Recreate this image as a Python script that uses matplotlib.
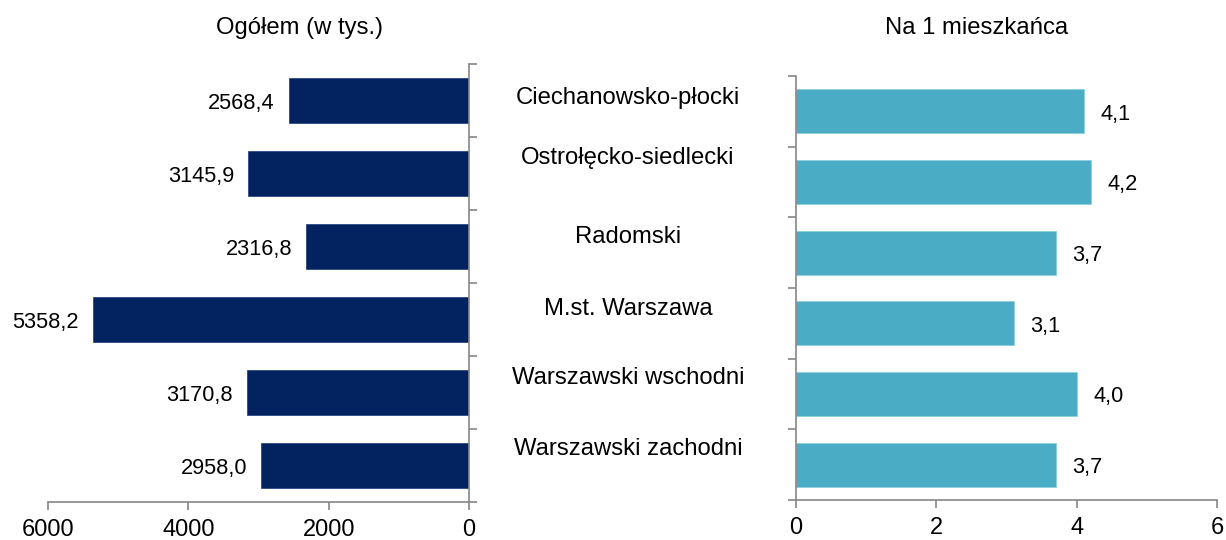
import matplotlib
matplotlib.use("Agg")
import matplotlib.pyplot as plt
import numpy as np

categories = ["Ciechanowsko-płocki", "Ostrołęcko-siedlecki", "Radomski",
              "M.st. Warszawa", "Warszawski wschodni", "Warszawski zachodni"]
total_k = [2568.4, 3145.9, 2316.8, 5358.2, 3170.8, 2958.0]
per_capita = [4.1, 4.2, 3.7, 3.1, 4.0, 3.7]
left_ticks = [6000, 4000, 2000, 0]
right_ticks = [0, 2, 4, 6]
title_left = "Ogółem (w tys.)"
title_right = "Na 1 mieszkańca"

plt.rcParams['font.family'] = ['Liberation Sans', 'DejaVu Sans']
FS_VAL = 15.7
FS_TXT = 17.2
FS_TICK = 17
DARK = "#022260"
LIGHT = "#4BACC6"
SPINE = "#868686"

fig = plt.figure(figsize=(12.26, 5.4), dpi=100)
axL = fig.add_axes([48/1226, 1-502/540, (469-48)/1226, (502-64)/540])
axR = fig.add_axes([796/1226, 1-500/540, (1217-796)/1226, (500-76)/540])

y = np.arange(len(categories))
fmt = lambda v, d: f"{v:.{d}f}".replace(".", ",")

axL.barh(y, total_k, height=0.62, color=DARK, edgecolor="#2a4a85", linewidth=0.6)
axL.set_xlim(6000, 0)
axL.set_ylim(len(categories)-0.5, -0.5)
for yi, v in zip(y, total_k):
    axL.annotate(fmt(v, 1), (v, yi), xytext=(-10, -2), textcoords="offset points",
                 ha="right", va="center", fontsize=FS_VAL)
axL.set_xticks(left_ticks)
axL.set_xticklabels([str(t) for t in left_ticks], fontsize=FS_TICK)
axL.set_yticks(np.arange(len(categories)+1)-0.5)
axL.set_yticklabels([])
axL.yaxis.tick_right()
for s in ["left", "top"]:
    axL.spines[s].set_visible(False)
for s in ["right", "bottom"]:
    axL.spines[s].set_color(SPINE)
    axL.spines[s].set_linewidth(1.2)
axL.tick_params(axis="both", color=SPINE, width=1.2, length=6, direction="out")
axL.tick_params(axis="x", pad=6)

axR.barh(y, per_capita, height=0.62, color=LIGHT, edgecolor="#8fd0e0", linewidth=0.6)
axR.set_xlim(0, 6)
axR.set_ylim(len(categories)-0.5, -0.5)
for yi, v in zip(y, per_capita):
    axR.annotate(fmt(v, 1), (v, yi), xytext=(12, -2), textcoords="offset points",
                 ha="left", va="center", fontsize=FS_VAL)
axR.set_xticks(right_ticks)
axR.set_xticklabels([str(t) for t in right_ticks], fontsize=FS_TICK)
axR.set_yticks(np.arange(len(categories)+1)-0.5)
axR.set_yticklabels([])
for s in ["right", "top"]:
    axR.spines[s].set_visible(False)
for s in ["left", "bottom"]:
    axR.spines[s].set_color(SPINE)
    axR.spines[s].set_linewidth(1.2)
axR.tick_params(axis="both", color=SPINE, width=1.2, length=6, direction="out")
axR.tick_params(axis="x", pad=6)

label_y = [98, 158, 237, 309, 378, 449]
for name, ly in zip(categories, label_y):
    fig.text(628/1226, 1-ly/540, name, ha="center", va="center", fontsize=FS_TXT)

fig.text(300/1226, 1-28/540, title_left, ha="center", va="center", fontsize=FS_TXT)
fig.text(977/1226, 1-28/540, title_right, ha="center", va="center", fontsize=FS_TXT)

fig.savefig("out.png", dpi=100)
